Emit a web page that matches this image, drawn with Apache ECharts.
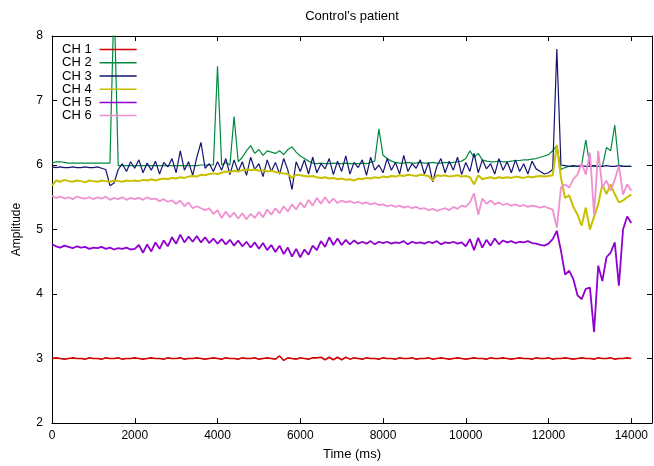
<!DOCTYPE html>
<html>
<head>
<meta charset="utf-8">
<script src="https://cdn.jsdelivr.net/npm/echarts@6/dist/echarts.min.js"></script>
<style>html,body{margin:0;padding:0;background:#fff;}#chart{width:654px;height:466px;}</style>
</head>
<body>
<div id="chart"></div>
<script>
// Sampling: one value every 100 ms, from 0 to 14000 ms
const sampleStepMs = 100;
const seriesNames = ['CH 1', 'CH 2', 'CH 3', 'CH 4', 'CH 5', 'CH 6'];
const xTicks = [0, 2000, 4000, 6000, 8000, 10000, 12000, 14000];
const yTicks = [2, 3, 4, 5, 6, 7, 8];

const ch1 = [
3.00,3.01,3.00,2.99,3.00,3.01,3.00,3.00,2.99,3.01,
3.00,3.00,2.99,3.01,3.00,3.00,3.01,2.99,3.00,3.00,
3.01,3.00,2.99,3.00,3.01,3.00,3.00,2.99,3.01,3.00,
3.00,3.01,2.99,3.00,3.00,3.01,3.00,2.99,3.00,3.01,
3.00,2.99,3.01,3.00,3.00,2.99,3.01,3.00,3.00,3.01,
2.99,3.00,3.01,3.00,2.99,3.04,2.97,3.01,3.00,2.99,
3.01,3.00,2.99,3.01,3.01,3.02,2.98,3.02,2.98,3.02,
2.98,3.02,2.99,3.01,3.00,2.99,3.01,3.00,3.00,2.99,
3.01,3.00,3.00,2.99,3.01,3.00,3.00,3.01,2.99,3.00,
3.00,3.01,2.99,3.00,3.01,3.00,2.99,3.00,3.01,3.00,
2.99,3.00,3.01,3.00,3.00,2.99,3.01,3.00,3.00,3.01,
3.00,2.99,3.00,3.01,3.00,3.00,2.99,3.01,3.00,3.00,
3.01,2.99,3.00,3.00,3.01,3.00,2.99,3.00,3.01,3.00,
3.00,2.99,3.01,3.00,3.00,3.01,2.99,3.00,3.00,3.01,
3.00];

const ch2 = [
6.03,6.05,6.05,6.04,6.03,6.03,6.03,6.03,6.03,6.03,
6.03,6.03,6.03,6.03,6.03,8.60,5.99,5.99,5.99,5.99,
5.99,5.99,5.99,5.99,5.99,5.99,5.99,5.99,5.99,5.99,
5.99,5.99,5.99,5.99,5.99,5.99,6.00,6.00,6.00,6.00,
7.53,6.00,6.04,6.00,6.75,6.05,6.12,6.22,6.30,6.18,
6.24,6.15,6.22,6.20,6.18,6.22,6.16,6.24,6.28,6.20,
6.14,6.10,6.06,6.03,6.02,6.03,6.02,6.02,6.03,6.02,
6.02,6.03,6.02,6.02,6.02,6.03,6.02,6.04,6.06,6.56,
6.15,6.10,6.06,6.04,6.03,6.03,6.04,6.03,6.03,6.04,
6.03,6.03,6.04,6.03,6.03,6.04,6.03,6.04,6.05,6.06,
6.10,6.22,6.12,6.18,6.08,6.06,6.05,6.05,6.06,6.05,
6.05,6.06,6.07,6.07,6.08,6.08,6.09,6.10,6.12,6.14,
6.16,6.22,6.30,5.93,5.96,5.98,5.98,5.98,6.00,6.39,
5.99,5.98,5.98,5.98,6.27,6.22,6.62,5.99,5.98,5.98,
5.98];

const ch3 = [
5.97,5.96,5.97,5.96,5.96,5.97,5.96,5.96,5.97,5.96,
5.96,5.97,5.95,5.93,5.68,5.72,5.93,6.02,5.90,6.05,
5.95,6.08,5.88,6.03,5.92,6.06,5.86,6.04,5.97,6.10,
5.88,6.22,5.92,6.05,5.84,6.12,6.35,5.95,6.02,5.90,
6.05,5.92,6.10,5.85,6.08,5.90,6.05,5.84,6.12,5.93,
6.02,5.82,6.08,5.90,6.04,5.86,6.10,5.92,5.62,6.05,
5.90,6.08,5.86,6.12,5.88,6.02,5.94,6.10,5.85,6.06,
5.90,6.14,5.86,6.04,5.96,6.08,5.84,6.12,5.92,6.00,
5.88,6.10,5.92,6.04,5.86,6.15,5.90,6.02,5.95,6.08,
5.86,6.04,5.74,5.98,6.10,5.88,6.06,5.92,6.12,5.85,
6.04,5.90,6.18,5.88,6.08,5.94,6.02,5.86,6.10,5.92,
6.05,5.88,6.08,5.90,6.02,5.86,6.06,5.94,5.90,5.86,
5.88,5.93,7.80,6.00,5.99,5.98,5.99,5.98,5.99,5.98,
5.98,5.99,5.98,5.98,5.99,5.98,5.98,5.99,5.98,5.98,
5.98];

const ch4 = [
5.68,5.76,5.74,5.77,5.75,5.74,5.76,5.75,5.73,5.76,
5.75,5.74,5.76,5.75,5.74,5.76,5.75,5.74,5.76,5.75,
5.76,5.75,5.77,5.76,5.78,5.76,5.78,5.79,5.78,5.80,
5.79,5.81,5.80,5.82,5.83,5.82,5.85,5.84,5.86,5.87,
5.86,5.88,5.90,5.89,5.91,5.90,5.92,5.93,5.92,5.93,
5.91,5.92,5.90,5.91,5.89,5.88,5.87,5.86,5.80,5.85,
5.84,5.83,5.82,5.83,5.81,5.80,5.81,5.79,5.80,5.78,
5.79,5.77,5.78,5.76,5.79,5.78,5.80,5.79,5.81,5.80,
5.82,5.81,5.83,5.82,5.84,5.83,5.85,5.84,5.83,5.85,
5.84,5.83,5.76,5.84,5.83,5.84,5.82,5.83,5.84,5.82,
5.83,5.81,5.70,5.84,5.78,5.80,5.81,5.79,5.81,5.80,
5.81,5.80,5.82,5.81,5.80,5.82,5.81,5.82,5.83,5.82,
5.83,5.84,6.31,5.80,5.49,5.53,5.35,5.23,5.06,5.34,
5.00,5.20,5.39,5.70,5.55,5.70,5.55,5.42,5.45,5.50,
5.54];

const ch5 = [
4.77,4.74,4.72,4.75,4.73,4.71,4.74,4.72,4.73,4.70,
4.72,4.71,4.73,4.70,4.72,4.69,4.71,4.70,4.72,4.69,
4.70,4.76,4.64,4.77,4.66,4.80,4.70,4.83,4.74,4.88,
4.78,4.92,4.80,4.89,4.81,4.90,4.80,4.88,4.79,4.86,
4.78,4.85,4.77,4.84,4.75,4.83,4.74,4.81,4.72,4.80,
4.70,4.79,4.68,4.76,4.65,4.75,4.62,4.72,4.58,4.70,
4.57,4.69,4.61,4.75,4.68,4.82,4.73,4.88,4.76,4.86,
4.76,4.84,4.77,4.83,4.78,4.81,4.78,4.82,4.77,4.81,
4.79,4.81,4.78,4.80,4.79,4.82,4.77,4.81,4.79,4.80,
4.78,4.81,4.79,4.82,4.77,4.80,4.79,4.81,4.78,4.80,
4.74,4.85,4.68,4.87,4.72,4.84,4.75,4.86,4.77,4.83,
4.80,4.82,4.79,4.81,4.80,4.82,4.79,4.78,4.76,4.75,
4.78,4.85,4.98,4.67,4.30,4.36,4.23,3.98,3.92,4.08,
4.10,3.41,4.44,4.20,4.57,4.64,4.80,4.13,5.00,5.20,
5.10];

const ch6 = [
5.52,5.49,5.51,5.48,5.50,5.47,5.51,5.49,5.48,5.50,
5.47,5.50,5.48,5.51,5.46,5.49,5.47,5.50,5.46,5.49,
5.47,5.49,5.46,5.50,5.47,5.48,5.44,5.47,5.43,5.45,
5.40,5.45,5.36,5.42,5.33,5.36,5.33,5.30,5.33,5.24,
5.30,5.18,5.28,5.19,5.26,5.17,5.25,5.16,5.24,5.18,
5.27,5.19,5.31,5.23,5.33,5.25,5.36,5.28,5.39,5.31,
5.42,5.34,5.46,5.37,5.49,5.40,5.50,5.41,5.48,5.41,
5.45,5.42,5.44,5.41,5.43,5.40,5.42,5.39,5.41,5.38,
5.39,5.36,5.38,5.35,5.37,5.34,5.36,5.33,5.35,5.32,
5.33,5.30,5.32,5.29,5.31,5.33,5.30,5.35,5.32,5.37,
5.35,5.42,5.56,5.23,5.48,5.40,5.45,5.39,5.42,5.38,
5.40,5.37,5.39,5.36,5.38,5.35,5.37,5.36,5.34,5.36,
5.33,5.31,5.03,5.65,5.70,5.65,5.78,5.85,6.03,5.85,
6.19,5.23,6.22,5.65,5.76,5.60,5.77,5.99,5.54,5.70,
5.60];

const allValues = [ch1, ch2, ch3, ch4, ch5, ch6];
const colors = ['#d00000', '#008a40', '#141470', '#c8c000', '#9000d0', '#f090d0'];
const widths = [1.6, 1.2, 1.2, 2.0, 1.8, 1.8];
const FONT = 'Liberation Sans, Arial, sans-serif';

const chart = echarts.init(document.getElementById('chart'), null, {renderer: 'canvas'});

const series = allValues.map((vals, k) => ({
  name: seriesNames[k],
  type: 'line',
  xAxisIndex: 0,
  yAxisIndex: 0,
  showSymbol: false,
  symbol: 'none',
  clip: true,
  data: vals.map((v, i) => [i * sampleStepMs, v]),
  lineStyle: {width: widths[k], color: colors[k]},
  itemStyle: {color: colors[k]},
  emphasis: {disabled: true}
}));

const axisLineStyle = {show: true, onZero: false, lineStyle: {color: '#000', width: 1}};
const tickStyle = {show: true, inside: true, length: 5, lineStyle: {color: '#000', width: 1}};

const option = {
  animation: false,
  backgroundColor: '#fff',
  textStyle: {fontFamily: FONT},
  graphic: [{
    type: 'text', x: 352, y: 10,
    style: {text: 'Control\u2019s patient', textAlign: 'center', textVerticalAlign: 'top',
            font: '13px ' + FONT, fill: '#000'}
  }],
  legend: {
    data: seriesNames,
    orient: 'vertical',
    left: 62, top: 43,
    padding: 0,
    align: 'right',
    icon: 'rect',
    itemWidth: 37, itemHeight: 1.5, itemGap: 0,
    textStyle: {fontSize: 13, color: '#000', fontFamily: FONT, lineHeight: 13.2, padding: [0, 3, 0, 0]}
  },
  grid: {left: 52, right: 2, top: 36, bottom: 40, containLabel: false},
  xAxis: [{
    type: 'value', position: 'bottom', min: 0, max: 14500, interval: 2000,
    axisLine: axisLineStyle, axisTick: tickStyle, splitLine: {show: false},
    axisLabel: {color: '#000', fontSize: 12, fontFamily: FONT, margin: 7,
      showMaxLabel: false,
      formatter: v => (xTicks.indexOf(v) >= 0 ? String(v) : '')},
    name: 'Time (ms)', nameLocation: 'middle', nameGap: 25,
    nameTextStyle: {color: '#000', fontSize: 13, fontFamily: FONT}
  }, {
    type: 'value', position: 'top', min: 0, max: 14500, interval: 2000,
    axisLine: axisLineStyle, axisTick: tickStyle, splitLine: {show: false},
    axisLabel: {show: false}
  }],
  yAxis: [{
    type: 'value', position: 'left', min: 2, max: 8, interval: 1,
    axisLine: axisLineStyle, axisTick: tickStyle, splitLine: {show: false},
    axisLabel: {color: '#000', fontSize: 12, fontFamily: FONT, margin: 9,
      formatter: v => (yTicks.indexOf(v) >= 0 ? String(v) : '')},
    name: 'Amplitude', nameLocation: 'middle', nameGap: 29, nameRotate: 90,
    nameTextStyle: {color: '#000', fontSize: 12, fontFamily: FONT}
  }, {
    type: 'value', position: 'right', min: 2, max: 8, interval: 1,
    axisLine: axisLineStyle, axisTick: tickStyle, splitLine: {show: false},
    axisLabel: {show: false}
  }],
  series: series
};
chart.setOption(option);
</script>
</body>
</html>
